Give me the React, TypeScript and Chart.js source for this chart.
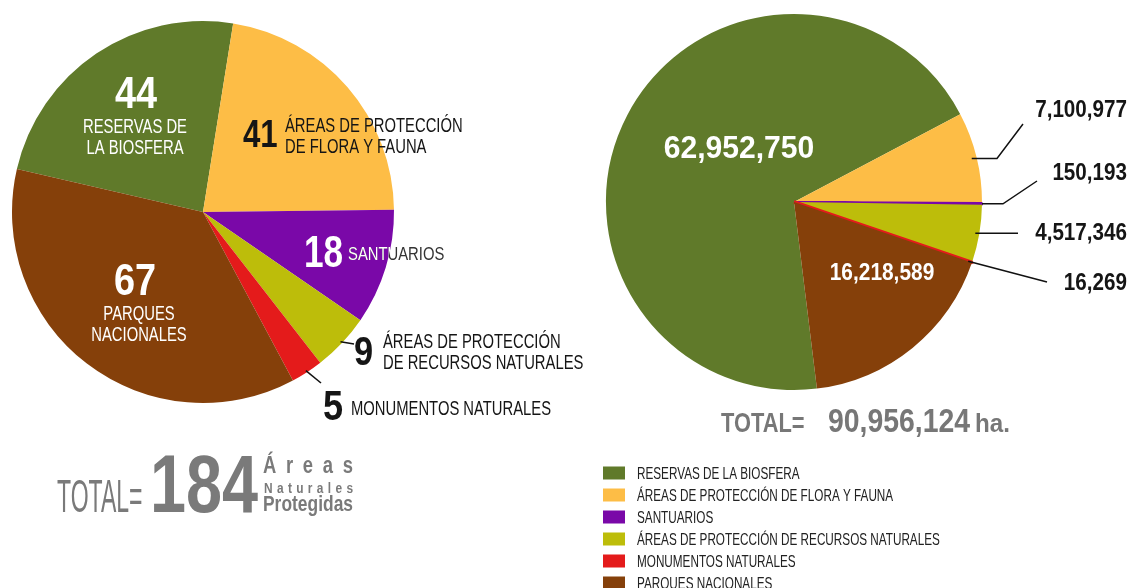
import React, { useEffect, useRef } from 'react';
import { Chart, registerables } from 'chart.js';

Chart.register(...registerables);

const categories = [
  'RESERVAS DE LA BIOSFERA',
  'ÁREAS DE PROTECCIÓN DE FLORA Y FAUNA',
  'SANTUARIOS',
  'ÁREAS DE PROTECCIÓN DE RECURSOS NATURALES',
  'MONUMENTOS NATURALES',
  'PARQUES NACIONALES',
];
const colors = ['#607A2A', '#FDBD46', '#7A08A8', '#BDBD0A', '#E41B1B', '#85400A'];
const areaCounts = [44, 41, 18, 9, 5, 67];
const hectares = [62952750, 7100977, 150193, 4517346, 16269, 16218589];
const pieLabelLines = [
  ['RESERVAS DE', 'LA BIOSFERA'],
  ['ÁREAS DE PROTECCIÓN', 'DE FLORA Y FAUNA'],
  ['SANTUARIOS'],
  ['ÁREAS DE PROTECCIÓN', 'DE RECURSOS NATURALES'],
  ['MONUMENTOS NATURALES'],
  ['PARQUES', 'NACIONALES'],
];
const totalAreasWords = ['Áreas', 'Naturales', 'Protegidas'];

const FONT = '"Liberation Sans", Arial, sans-serif';

type TOpt = { size: number; bold?: boolean; color: string; align?: CanvasTextAlign; sx?: number };

function t(ctx: CanvasRenderingContext2D, s: string, x: number, y: number, o: TOpt) {
  ctx.save();
  ctx.font = `${o.bold ? 'bold ' : ''}${o.size}px ${FONT}`;
  ctx.fillStyle = o.color;
  ctx.textBaseline = 'alphabetic';
  ctx.textAlign = o.align || 'left';
  ctx.translate(x, y);
  ctx.scale(o.sx ?? 0.74, 1);
  ctx.fillText(s, 0, 0);
  ctx.restore();
}

function justify(ctx: CanvasRenderingContext2D, s: string, x0: number, x1: number, y: number, size: number, bold: boolean, color: string, sx: number) {
  ctx.save();
  ctx.font = `${bold ? 'bold ' : ''}${size}px ${FONT}`;
  ctx.fillStyle = color;
  ctx.textBaseline = 'alphabetic';
  ctx.textAlign = 'left';
  const chars = Array.from(s);
  const ws = chars.map((c) => ctx.measureText(c).width * sx);
  const sum = ws.reduce((a, b) => a + b, 0);
  const gap = chars.length > 1 ? (x1 - x0 - sum) / (chars.length - 1) : 0;
  let x = x0;
  chars.forEach((c, i) => {
    ctx.save();
    ctx.translate(x, y);
    ctx.scale(sx, 1);
    ctx.fillText(c, 0, 0);
    ctx.restore();
    x += ws[i] + gap;
  });
  ctx.restore();
}

function edgePoint(arc: any, extra = 0) {
  const mid = (arc.startAngle + arc.endAngle) / 2;
  const r = arc.outerRadius + extra;
  return { x: arc.x + r * Math.cos(mid), y: arc.y + r * Math.sin(mid) };
}

function line(ctx: CanvasRenderingContext2D, pts: { x: number; y: number }[]) {
  ctx.save();
  ctx.strokeStyle = '#111';
  ctx.lineWidth = 1.5;
  ctx.beginPath();
  pts.forEach((p, i) => (i ? ctx.lineTo(p.x, p.y) : ctx.moveTo(p.x, p.y)));
  ctx.stroke();
  ctx.restore();
}

const leftLabels = {
  id: 'leftLabels',
  afterDraw(chart: any) {
    const ctx: CanvasRenderingContext2D = chart.ctx;
    const arcs = chart.getDatasetMeta(0).data;
    const cx = arcs[0].x;
    const cy = arcs[0].y;
    const R = arcs[0].outerRadius;
    const W = '#ffffff';
    const K = '#151515';
    const big = 44;
    const small = 20;
    const nsx = 0.86;
    // Reservas
    t(ctx, String(areaCounts[0]), cx - 67, cy - 104, { size: big, bold: true, color: W, align: 'center', sx: nsx });
    t(ctx, pieLabelLines[0][0], cx - 68, cy - 79, { size: small, color: W, align: 'center' });
    t(ctx, pieLabelLines[0][1], cx - 68, cy - 58, { size: small, color: W, align: 'center' });
    // Flora y fauna
    t(ctx, String(areaCounts[1]), cx + 40, cy - 65, { size: 39, bold: true, color: K, sx: 0.8 });
    t(ctx, pieLabelLines[1][0], cx + 82, cy - 80, { size: small, color: K });
    t(ctx, pieLabelLines[1][1], cx + 82, cy - 59, { size: small, color: K });
    // Santuarios
    t(ctx, String(areaCounts[2]), cx + 101, cy + 55, { size: big, bold: true, color: W, sx: 0.8 });
    t(ctx, pieLabelLines[2][0], cx + 145, cy + 48, { size: 19, color: '#333', sx: 0.78 });
    ctx.save();
    ctx.beginPath();
    ctx.arc(cx, cy, R, 0, Math.PI * 2);
    ctx.clip();
    t(ctx, pieLabelLines[2][0], cx + 145, cy + 48, { size: 19, color: W, sx: 0.78 });
    ctx.restore();
    // Parques
    t(ctx, String(areaCounts[5]), cx - 68, cy + 83, { size: big, bold: true, color: W, align: 'center', sx: nsx });
    t(ctx, pieLabelLines[5][0], cx - 64, cy + 108, { size: small, color: W, align: 'center' });
    t(ctx, pieLabelLines[5][1], cx - 64, cy + 129, { size: small, color: W, align: 'center' });
    // Recursos naturales
    const p3 = edgePoint(arcs[3], -2);
    line(ctx, [p3, { x: cx + 151, y: cy + 132 }]);
    t(ctx, String(areaCounts[3]), cx + 151, cy + 153, { size: 40, bold: true, color: K, sx: nsx });
    t(ctx, pieLabelLines[3][0], cx + 180, cy + 136, { size: small, color: K });
    t(ctx, pieLabelLines[3][1], cx + 180, cy + 157, { size: small, color: K });
    // Monumentos
    const p4 = edgePoint(arcs[4], -2);
    line(ctx, [p4, { x: cx + 118, y: cy + 171 }]);
    t(ctx, String(areaCounts[4]), cx + 120, cy + 208, { size: 42, bold: true, color: K, sx: nsx });
    t(ctx, pieLabelLines[4][0], cx + 148, cy + 203, { size: small, color: K });

    // Total
    const total = areaCounts.reduce((a, b) => a + b, 0);
    const G = '#7a7a7a';
    t(ctx, 'TOTAL=', 57, 512, { size: 47, color: G, sx: 0.49 });
    t(ctx, String(total), 150, 512, { size: 82, bold: true, color: G, sx: 0.79 });
    justify(ctx, totalAreasWords[0], 263, 353, 473, 23, true, G, 0.8);
    justify(ctx, totalAreasWords[1], 264, 353, 493, 14, true, G, 0.85);
    justify(ctx, totalAreasWords[2], 263, 353, 511, 22, true, G, 0.79);
  },
};

const fmt = (v: number) => v.toLocaleString('en-US');

const rightLabels = {
  id: 'rightLabels',
  afterDraw(chart: any) {
    const ctx: CanvasRenderingContext2D = chart.ctx;
    const arcs = chart.getDatasetMeta(0).data;
    const cx = arcs[0].x;
    const cy = arcs[0].y;
    const W = '#ffffff';
    const K = '#151515';
    t(ctx, fmt(hectares[0]), cx - 55, cy - 44, { size: 32, bold: true, color: W, align: 'center', sx: 0.94 });
    t(ctx, fmt(hectares[5]), cx + 88, cy + 78, { size: 24, bold: true, color: W, align: 'center', sx: 0.87 });

    const rx = cx + 333;
    const o = { size: 24, bold: true, color: K, align: 'right' as CanvasTextAlign, sx: 0.86 };
    t(ctx, fmt(hectares[1]), rx, cy - 85, o);
    t(ctx, fmt(hectares[2]), rx, cy - 22, o);
    t(ctx, fmt(hectares[3]), rx, cy + 38, o);
    t(ctx, fmt(hectares[4]), rx, cy + 88, o);

    const a1 = edgePoint(arcs[1], -5);
    line(ctx, [a1, { x: cx + 203, y: a1.y }, { x: cx + 229, y: cy - 78 }]);
    const a2 = edgePoint(arcs[2], 0);
    line(ctx, [a2, { x: cx + 209, y: a2.y }, { x: cx + 243, y: cy - 21 }]);
    const a3 = edgePoint(arcs[3], -4);
    line(ctx, [a3, { x: cx + 224, y: a3.y }]);
    const a4 = edgePoint(arcs[4], -4);
    line(ctx, [a4, { x: cx + 253, y: cy + 80 }]);

    const total = hectares.reduce((a, b) => a + b, 0);
    const G = '#777777';
    t(ctx, 'TOTAL=', 721, 432, { size: 28, bold: true, color: G, sx: 0.78 });
    t(ctx, fmt(total), 828, 432, { size: 33, bold: true, color: G, sx: 0.86 });
    t(ctx, 'ha.', 975, 432, { size: 26, bold: true, color: G, sx: 0.93 });

    // Legend
    categories.forEach((c, i) => {
      const yc = 473 + i * 22;
      ctx.fillStyle = colors[i];
      ctx.fillRect(603, yc - 6.5, 22, 13);
      t(ctx, c, 637, yc + 6, { size: 17, color: '#222', sx: 0.69 });
    });
  },
};

export default function App() {
  const leftRef = useRef<HTMLCanvasElement | null>(null);
  const rightRef = useRef<HTMLCanvasElement | null>(null);

  useEffect(() => {
    const left = new Chart(leftRef.current as HTMLCanvasElement, {
      type: 'pie',
      data: {
        labels: categories,
        datasets: [{ data: areaCounts, backgroundColor: colors, borderWidth: 0 }],
      },
      options: {
        responsive: false,
        animation: false,
        events: [],
        rotation: -77,
        radius: 191,
        layout: { padding: { left: 12, top: 21, right: 741, bottom: 185 } },
        plugins: { legend: { display: false }, tooltip: { enabled: false }, title: { display: false } },
      },
      plugins: [leftLabels],
    } as any);
    const right = new Chart(rightRef.current as HTMLCanvasElement, {
      type: 'pie',
      data: {
        labels: categories,
        datasets: [
          {
            data: hectares,
            backgroundColor: colors,
            borderColor: colors,
            borderWidth: [0, 0, 2, 0, 3.5, 0],
          },
        ],
      },
      options: {
        responsive: false,
        animation: false,
        events: [],
        rotation: 173,
        radius: 188,
        layout: { padding: { left: 606, top: 14, right: 153, bottom: 198 } },
        plugins: { legend: { display: false }, tooltip: { enabled: false }, title: { display: false } },
      },
      plugins: [rightLabels],
    } as any);
    return () => {
      left.destroy();
      right.destroy();
    };
  }, []);

  const cs: React.CSSProperties = { position: 'absolute', left: 0, top: 0 };
  return (
    <div style={{ position: 'absolute', left: 0, top: 0, width: 1135, height: 588, background: '#fff' }}>
      <canvas ref={leftRef} width={1135} height={588} style={cs} />
      <canvas ref={rightRef} width={1135} height={588} style={cs} />
    </div>
  );
}
